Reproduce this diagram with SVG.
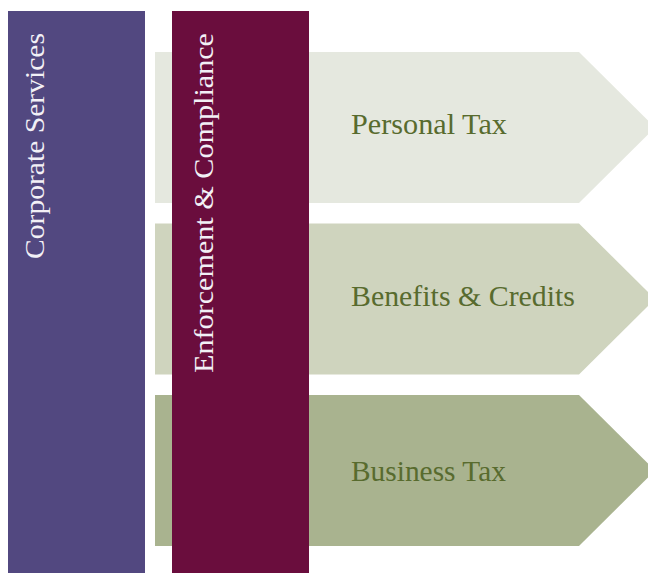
<svg xmlns="http://www.w3.org/2000/svg" width="648" height="573" viewBox="0 0 648 573">
<style>
.lbl{font-family:"Liberation Serif","Times New Roman",serif;font-size:29px;fill:#586B2E}
.vlbl{font-family:"Liberation Serif","Times New Roman",serif;font-size:28px;fill:#F2F0F6}
</style>
<rect width="648" height="573" fill="#ffffff"/>
<g id="personal-tax">
<polygon points="155,52 579,52 655,127.5 579,203 155,203" fill="#E5E8DF"/>
<text class="lbl" x="351" y="134" textLength="156" lengthAdjust="spacingAndGlyphs">Personal Tax</text>
</g>
<g id="benefits-credits">
<polygon points="155,223.5 579,223.5 655,299 579,374.5 155,374.5" fill="#CFD4BE"/>
<text class="lbl" x="351" y="306" textLength="224" lengthAdjust="spacingAndGlyphs">Benefits &amp; Credits</text>
</g>
<g id="business-tax">
<polygon points="155,395 579,395 655,470.5 579,546 155,546" fill="#A9B38F"/>
<text class="lbl" x="351" y="481" textLength="155" lengthAdjust="spacingAndGlyphs">Business Tax</text>
</g>
<g id="corporate-services">
<rect x="8" y="11" width="137" height="562" fill="#524880"/>
<text class="vlbl" transform="translate(44,259) rotate(-90)" textLength="226" lengthAdjust="spacingAndGlyphs">Corporate Services</text>
</g>
<g id="enforcement-compliance">
<rect x="172" y="11" width="137" height="562" fill="#6A0D3D"/>
<text class="vlbl" transform="translate(213,373) rotate(-90)" textLength="340" lengthAdjust="spacingAndGlyphs">Enforcement &amp; Compliance</text>
</g>
<g id="connectors"></g>
</svg>
